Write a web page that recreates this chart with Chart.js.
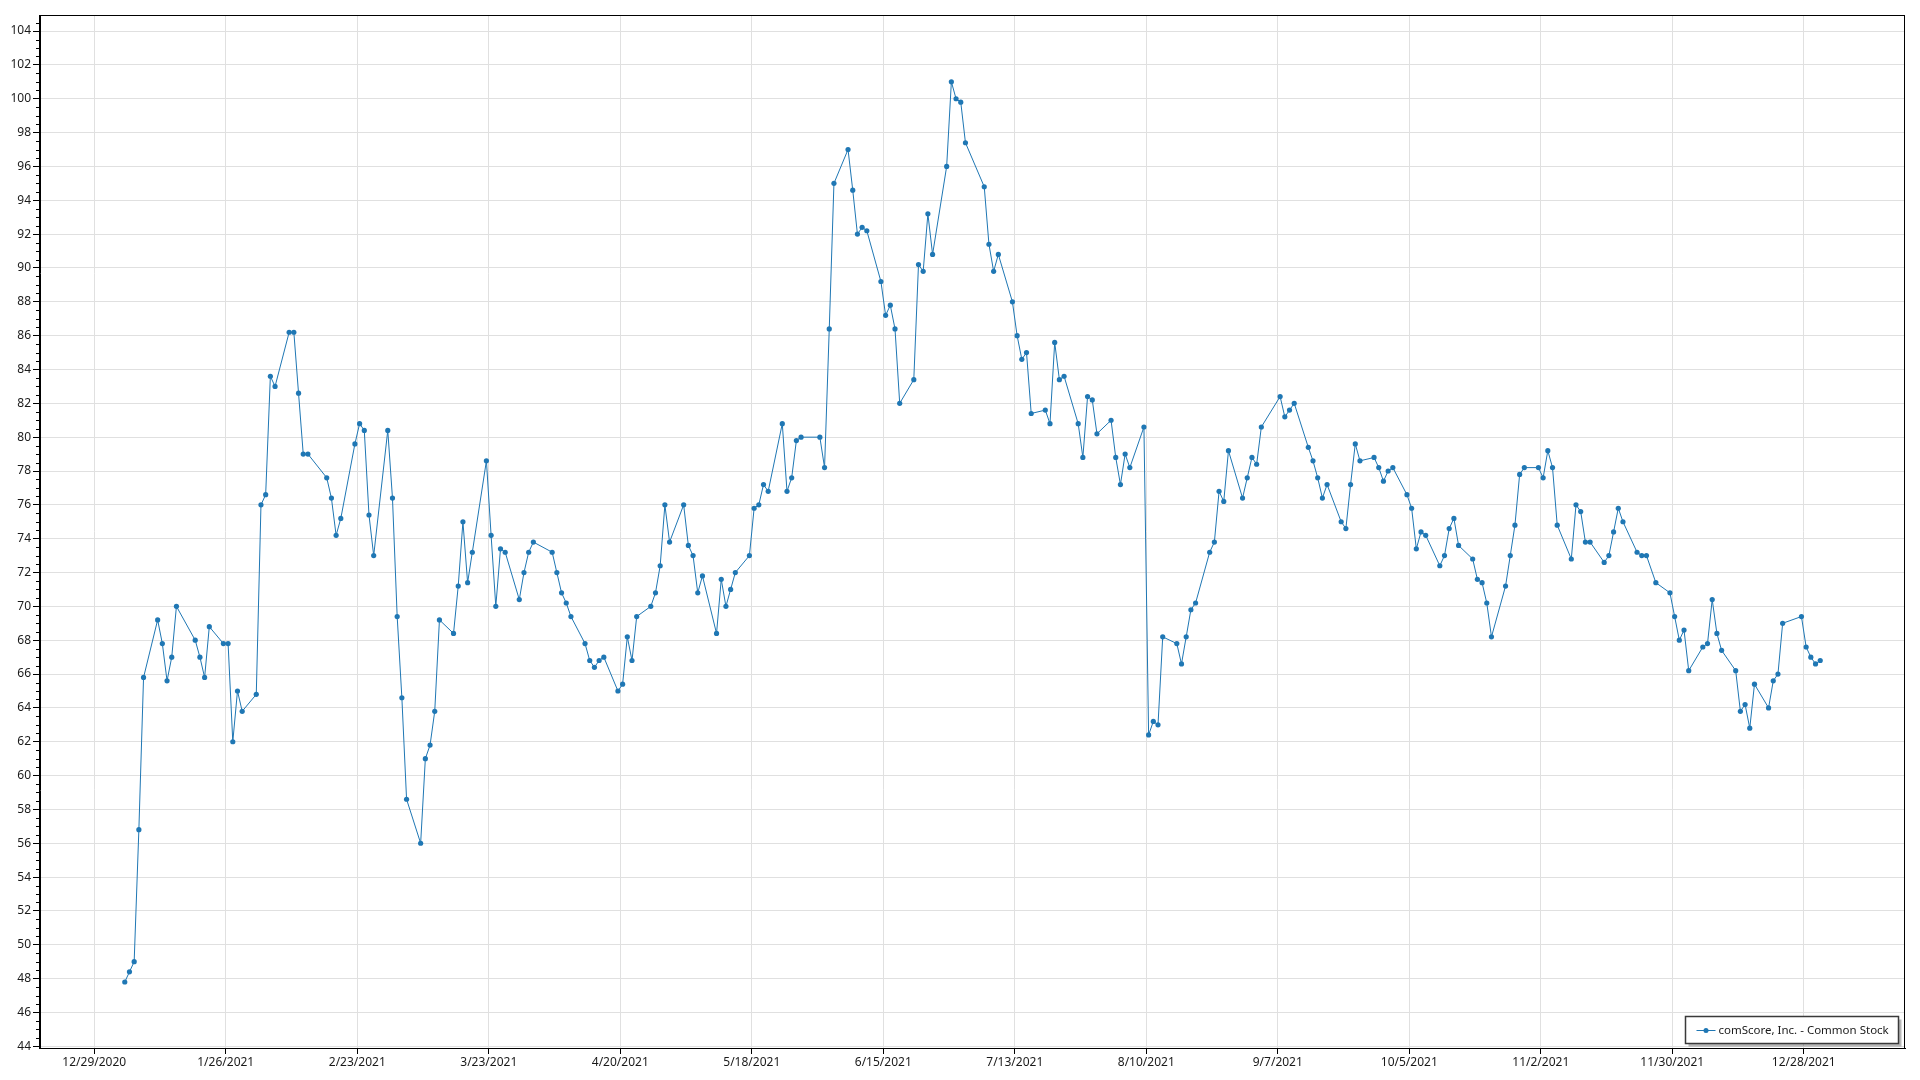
<!DOCTYPE html>
<html>
<head>
<meta charset="utf-8">
<script src="https://cdn.jsdelivr.net/npm/chart.js@4.4.1/dist/chart.umd.min.js"></script>
<style>
  html, body { margin: 0; padding: 0; background: #ffffff; }
  #wrap { width: 1920px; height: 1080px; position: relative; }
</style>
</head>
<body>
<div id="wrap"><canvas id="c" width="1920" height="1080"></canvas></div>
<script>
// ---------------- DATA ----------------
const seriesName = 'comScore, Inc. - Common Stock';

const tradingDates = [
  '1/4/2021','1/5/2021','1/6/2021','1/7/2021','1/8/2021','1/11/2021','1/12/2021','1/13/2021','1/14/2021','1/15/2021',
  '1/19/2021','1/20/2021','1/21/2021','1/22/2021','1/25/2021','1/26/2021','1/27/2021','1/28/2021','1/29/2021',
  '2/1/2021','2/2/2021','2/3/2021','2/4/2021','2/5/2021','2/8/2021','2/9/2021','2/10/2021','2/11/2021','2/12/2021',
  '2/16/2021','2/17/2021','2/18/2021','2/19/2021','2/22/2021','2/23/2021','2/24/2021','2/25/2021','2/26/2021',
  '3/1/2021','3/2/2021','3/3/2021','3/4/2021','3/5/2021','3/8/2021','3/9/2021','3/10/2021','3/11/2021','3/12/2021',
  '3/15/2021','3/16/2021','3/17/2021','3/18/2021','3/19/2021','3/22/2021','3/23/2021','3/24/2021','3/25/2021','3/26/2021',
  '3/29/2021','3/30/2021','3/31/2021',
  '4/1/2021','4/5/2021','4/6/2021','4/7/2021','4/8/2021','4/9/2021','4/12/2021','4/13/2021','4/14/2021','4/15/2021','4/16/2021',
  '4/19/2021','4/20/2021','4/21/2021','4/22/2021','4/23/2021','4/26/2021','4/27/2021','4/28/2021','4/29/2021','4/30/2021',
  '5/3/2021','5/4/2021','5/5/2021','5/6/2021','5/7/2021','5/10/2021','5/11/2021','5/12/2021','5/13/2021','5/14/2021',
  '5/17/2021','5/18/2021','5/19/2021','5/20/2021','5/21/2021','5/24/2021','5/25/2021','5/26/2021','5/27/2021','5/28/2021',
  '6/1/2021','6/2/2021','6/3/2021','6/4/2021','6/7/2021','6/8/2021','6/9/2021','6/10/2021','6/11/2021',
  '6/14/2021','6/15/2021','6/16/2021','6/17/2021','6/18/2021','6/21/2021','6/22/2021','6/23/2021','6/24/2021','6/25/2021',
  '6/28/2021','6/29/2021','6/30/2021',
  '7/1/2021','7/2/2021','7/6/2021','7/7/2021','7/8/2021','7/9/2021','7/12/2021','7/13/2021','7/14/2021','7/15/2021','7/16/2021',
  '7/19/2021','7/20/2021','7/21/2021','7/22/2021','7/23/2021','7/26/2021','7/27/2021','7/28/2021','7/29/2021','7/30/2021',
  '8/2/2021','8/3/2021','8/4/2021','8/5/2021','8/6/2021','8/9/2021','8/10/2021','8/11/2021','8/12/2021','8/13/2021',
  '8/16/2021','8/17/2021','8/18/2021','8/19/2021','8/20/2021','8/23/2021','8/24/2021','8/25/2021','8/26/2021','8/27/2021',
  '8/30/2021','8/31/2021',
  '9/1/2021','9/2/2021','9/3/2021','9/7/2021','9/8/2021','9/9/2021','9/10/2021','9/13/2021','9/14/2021','9/15/2021','9/16/2021','9/17/2021',
  '9/20/2021','9/21/2021','9/22/2021','9/23/2021','9/24/2021','9/27/2021','9/28/2021','9/29/2021','9/30/2021',
  '10/1/2021','10/4/2021','10/5/2021','10/6/2021','10/7/2021','10/8/2021','10/11/2021','10/12/2021','10/13/2021','10/14/2021','10/15/2021',
  '10/18/2021','10/19/2021','10/20/2021','10/21/2021','10/22/2021','10/25/2021','10/26/2021','10/27/2021','10/28/2021','10/29/2021',
  '11/1/2021','11/2/2021','11/3/2021','11/4/2021','11/5/2021','11/8/2021','11/9/2021','11/10/2021','11/11/2021','11/12/2021',
  '11/15/2021','11/16/2021','11/17/2021','11/18/2021','11/19/2021','11/22/2021','11/23/2021','11/24/2021','11/26/2021',
  '11/29/2021','11/30/2021',
  '12/1/2021','12/2/2021','12/3/2021','12/6/2021','12/7/2021','12/8/2021','12/9/2021','12/10/2021',
  '12/13/2021','12/14/2021','12/15/2021','12/16/2021','12/17/2021','12/20/2021','12/21/2021','12/22/2021','12/23/2021',
  '12/27/2021','12/28/2021','12/29/2021','12/30/2021','12/31/2021'
];

const closePrices = [
  47.8,48.4,49.0,56.8,65.8, 69.2,67.8,65.6,67.0,70.0,
  68.0,67.0,65.8,68.8, 67.8,67.8,62.0,65.0,63.8,
  64.8,76.0,76.6,83.6,83.0, 86.2,86.2,82.6,79.0,79.0,
  77.6,76.4,74.2,75.2, 79.6,80.8,80.4,75.4,73.0,
  80.4,76.4,69.4,64.6,58.6, 56.0,61.0,61.8,63.8,69.2,
  68.4,71.2,75.0,71.4,73.2, 78.6,74.2,70.0,73.4,73.2,
  70.4,72.0,73.2,
  73.8, 73.2,72.0,70.8,70.2,69.4, 67.8,66.8,66.4,66.8,67.0,
  65.0,65.4,68.2,66.8,69.4, 70.0,70.8,72.4,76.0,73.8,
  76.0,73.6,73.0,70.8,71.8, 68.4,71.6,70.0,71.0,72.0,
  73.0,75.8,76.0,77.2,76.8, 80.8,76.8,77.6,79.8,80.0,
  80.0,78.2,86.4,95.0, 97.0,94.6,92.0,92.4,92.2,
  89.2,87.2,87.8,86.4,82.0, 83.4,90.2,89.8,93.2,90.8,
  96.0,101.0,100.0,
  99.8,97.4, 94.8,91.4,89.8,90.8, 88.0,86.0,84.6,85.0,81.4,
  81.6,80.8,85.6,83.4,83.6, 80.8,78.8,82.4,82.2,80.2,
  81.0,78.8,77.2,79.0,78.2, 80.6,62.4,63.2,63.0,68.2,
  67.8,66.6,68.2,69.8,70.2, 73.2,73.8,76.8,76.2,79.2,
  76.4,77.6,
  78.8,78.4,80.6, 82.4,81.2,81.6,82.0, 79.4,78.6,77.6,76.4,77.2,
  75.0,74.6,77.2,79.6,78.6, 78.8,78.2,77.4,78.0,
  78.2, 76.6,75.8,73.4,74.4,74.2, 72.4,73.0,74.6,75.2,73.6,
  72.8,71.6,71.4,70.2,68.2, 71.2,73.0,74.8,77.8,78.2,
  78.2,77.6,79.2,78.2,74.8, 72.8,76.0,75.6,73.8,73.8,
  72.6,73.0,74.4,75.8,75.0, 73.2,73.0,73.0,71.4,
  70.8,69.4,
  68.0,68.6,66.2, 67.6,67.8,70.4,68.4,67.4,
  66.2,63.8,64.2,62.8,65.4, 64.0,65.6,66.0,69.0,
  69.4,67.6,67.0,66.6,66.8
];

const xTickLabels = ['12/29/2020','1/26/2021','2/23/2021','3/23/2021','4/20/2021','5/18/2021','6/15/2021',
                     '7/13/2021','8/10/2021','9/7/2021','10/5/2021','11/2/2021','11/30/2021','12/28/2021'];

const yTickLabels = ['44','46','48','50','52','54','56','58','60','62','64','66','68','70','72','74',
                     '76','78','80','82','84','86','88','90','92','94','96','98','100','102','104'];

// ---------------- HELPERS ----------------
const DAY_MS = 86400000;
const CLOSE_TIME = 0.5;          // stamps sit at mid-day
function dayNumber(s) {
  const [m, d, y] = s.split('/').map(Number);
  return Date.UTC(y, m - 1, d) / DAY_MS;
}
const points = tradingDates.map((s, i) => ({ x: dayNumber(s) + CLOSE_TIME, y: closePrices[i] }));
const xTickValues = xTickLabels.map(dayNumber);
const yTickValues = yTickLabels.map(Number);

const firstX = points[0].x, lastX = points[points.length - 1].x;
const xPad = (lastX - firstX) * 0.05;
const yMin = 43.9, yMax = 104.95;

const FONT = '"Noto Sans", "Open Sans", sans-serif';
const LINE_COLOR = '#1f77b4';
const GRID_COLOR = '#e0e0e0';

// ---------------- PLUGINS ----------------
const bgPlugin = {
  id: 'bg',
  beforeDraw(chart) {
    const ctx = chart.ctx;
    ctx.save();
    ctx.fillStyle = '#ffffff';
    ctx.fillRect(0, 0, chart.width, chart.height);
    ctx.restore();
  }
};

const framePlugin = {
  id: 'frame',
  afterDraw(chart) {
    const { ctx, chartArea } = chart;
    const ys = chart.scales.y;
    ctx.save();
    ctx.strokeStyle = '#000';
    ctx.lineWidth = 1;
    ctx.strokeRect(Math.round(chartArea.left) - 0.5, Math.round(chartArea.top) + 0.5,
                   Math.round(chartArea.right - chartArea.left), Math.round(chartArea.bottom - chartArea.top));
    // minor ticks on the value axis
    ctx.beginPath();
    for (let v = Math.ceil(yMin * 2) / 2; v <= yMax; v += 0.5) {
      if (Math.abs(v / 2 - Math.round(v / 2)) < 1e-6) continue;
      const py = Math.round(ys.getPixelForValue(v)) + 0.5;
      ctx.moveTo(chartArea.left - 4, py);
      ctx.lineTo(chartArea.left, py);
    }
    ctx.stroke();
    ctx.restore();
  }
};

const boxLegend = {
  id: 'boxLegend',
  afterDraw(chart) {
    const { ctx, chartArea } = chart;
    const ds = chart.data.datasets[0];
    ctx.save();
    ctx.font = '11.5px ' + FONT;
    const tw = ctx.measureText(ds.label).width;
    const padL = 11, sampleW = 19, gap = 3, padR = 10;
    const w = Math.round(padL + sampleW + gap + tw + padR);
    const h = 27;
    const x = Math.round(chartArea.right - 7 - w) + 0.5;
    const y = Math.round(chartArea.bottom - 5 - h) + 0.5;
    ctx.fillStyle = 'rgba(0,0,0,0.28)';
    ctx.fillRect(x + 3, y + 3, w, h);
    ctx.fillStyle = '#ffffff';
    ctx.fillRect(x, y, w, h);
    ctx.strokeStyle = '#3a3a3a';
    ctx.lineWidth = 1.5;
    ctx.strokeRect(x, y, w, h);
    const cy = Math.round(y + h / 2);
    ctx.strokeStyle = ds.borderColor;
    ctx.lineWidth = 1;
    ctx.beginPath();
    ctx.moveTo(x + padL, cy + 0.5);
    ctx.lineTo(x + padL + sampleW, cy + 0.5);
    ctx.stroke();
    ctx.fillStyle = ds.borderColor;
    ctx.beginPath();
    ctx.arc(x + padL + sampleW / 2, cy + 0.5, 2.5, 0, Math.PI * 2);
    ctx.fill();
    ctx.fillStyle = '#1a1a1a';
    ctx.textBaseline = 'middle';
    ctx.textAlign = 'left';
    ctx.fillText(ds.label, x + padL + sampleW + gap, cy + 0.5);
    ctx.restore();
  }
};

// ---------------- CHART ----------------
new Chart(document.getElementById('c'), {
  type: 'line',
  data: {
    datasets: [{
      label: seriesName,
      data: points,
      borderColor: LINE_COLOR,
      backgroundColor: LINE_COLOR,
      borderWidth: 1,
      pointRadius: 2.6,
      pointBorderWidth: 0,
      pointBackgroundColor: LINE_COLOR,
      tension: 0,
      fill: false
    }]
  },
  options: {
    responsive: false,
    animation: false,
    devicePixelRatio: 1,
    parsing: false,
    layout: { padding: { left: 0, right: 15, top: 15, bottom: 0 } },
    plugins: { legend: { display: false }, tooltip: { enabled: false } },
    scales: {
      x: {
        type: 'linear',
        min: firstX - xPad,
        max: lastX + xPad,
        afterBuildTicks: s => { s.ticks = xTickValues.map(v => ({ value: v })); },
        afterFit: s => { s.height = 32; },
        ticks: {
          autoSkip: false, maxRotation: 0, minRotation: 0, padding: 1,
          color: '#1a1a1a', font: { family: FONT, size: 12 },
          callback: (v, i) => xTickLabels[i]
        },
        grid: { color: GRID_COLOR, lineWidth: 1, tickColor: '#000', tickLength: 6, drawTicks: true },
        border: { display: true, color: '#000', width: 1 }
      },
      y: {
        type: 'linear',
        min: yMin,
        max: yMax,
        afterBuildTicks: s => { s.ticks = yTickValues.map(v => ({ value: v })); },
        afterFit: s => { s.width = 40; },
        ticks: {
          autoSkip: false, padding: 2,
          color: '#1a1a1a', font: { family: FONT, size: 12 },
          callback: (v, i) => yTickLabels[i]
        },
        grid: { color: GRID_COLOR, lineWidth: 1, tickColor: '#000', tickLength: 7, drawTicks: true },
        border: { display: true, color: '#000', width: 1 }
      }
    }
  },
  plugins: [bgPlugin, framePlugin, boxLegend]
});
</script>
</body>
</html>
